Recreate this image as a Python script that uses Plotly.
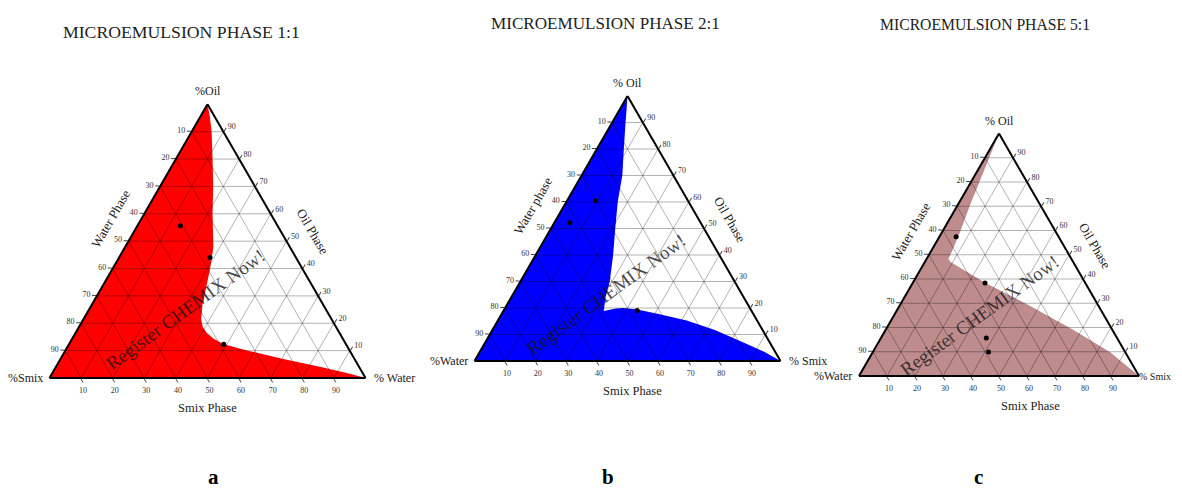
import math
import plotly.graph_objects as go

# ---------------- data (percent, a = Oil at top vertex, c = right vertex) ----------------
TICKS = [10, 20, 30, 40, 50, 60, 70, 80, 90]
TICK_TEXT = [str(100 - v) for v in TICKS]

# Panel a (1:1): boundary of the red region from %Oil vertex to %Water vertex
a_oil = [100, 95, 90, 80, 70, 60, 50, 47.7, 39.8, 32.6, 26.8, 21.6, 18.7, 16.4, 14.3, 12.3, 10, 7.07, 3.83, 1.5, 0]
a_right = [0, 3.3, 6.3, 11.6, 16.8, 21.6, 26.8, 28.0, 30.9, 33.2, 35.0, 37.2, 39.1, 41.6, 44.8, 49.0, 57.8, 70.1, 84.7, 94.6, 100]
a_dot_oil = [55.6, 44.0, 12.3]
a_dot_right = [13.6, 28.8, 49.0]

# Panel b (2:1): boundary of the blue region
b_oil = [100, 95, 89, 80, 70, 60, 50, 40, 30, 24, 18.9, 19.8, 20, 19.4, 17.7, 15.3, 11.7, 7.0, 3.4, 0]
b_right = [0, 2.2, 4.8, 8.8, 13.3, 16.8, 21.0, 25.3, 29.2, 30.8, 32.8, 36.3, 38.6, 43.5, 51.3, 61.7, 72.7, 84.4, 93.1, 100]
b_dot_oil = [52.2, 60.5, 19.1]
b_dot_right = [5.1, 9.3, 43.6]

# Panel c (5:1): boundary of the rosy region
c_oil = [100, 90, 80, 70, 60, 52, 48.3, 47.0, 38.4, 29.5, 19.3, 9.65, 0]
c_right = [0, 1.5, 3.0, 4.5, 6.3, 7.4, 7.8, 9.2, 26.0, 45.4, 66.5, 85.0, 100]
c_dot_oil = [57.4, 38.4, 15.7, 9.9]
c_dot_right = [6.0, 25.8, 37.6, 41.3]

titles = ["MICROEMULSION PHASE 1:1", "MICROEMULSION PHASE 2:1", "MICROEMULSION PHASE 5:1"]
vertex_top = ["%Oil", "% Oil", "% Oil"]
vertex_left = ["%Smix", "%Water", "%Water"]
vertex_right = ["% Water", "% Smix", "% Smix"]
left_titles = ["Water Phase", "Water phase", "Water Phase"]
right_titles = ["Oil Phase", "Oil Phase", "Oil Phase"]
bottom_titles = ["Smix Phase", "Smix Phase", "Smix Phase"]
letters = ["a", "b", "c"]
fills = ["#FF0000", "#0000FF", "rgb(190,140,140)"]

# ---------------- layout geometry (pixels of the page) ----------------
OFF = 8                      # page body margin
W, H = 1182 - OFF, 488 - OFF
SQ = math.sqrt(3) / 2
panels = [
    dict(cx=207.5, by=378, w=316, tx=181, ty=32, tsize=17.7, lx=213, bx=0, vr=12, vrx=None),
    dict(cx=627.5, by=361, w=306, tx=605, ty=23, tsize=17.1, lx=608, bx=5, vr=12, vrx=None),
    dict(cx=999, by=376, w=280, tx=985, ty=25, tsize=15.7, lx=978, bx=31, vr=10, vrx=1173),
]
SERIF = "Liberation Serif"
GRID = "rgba(0,0,0,0.38)"


def px(x):
    return (x - OFF) / W


def py(y):
    return 1 - (y - OFF) / H


fig = go.Figure()
datasets = [
    (a_oil, a_right, a_dot_oil, a_dot_right),
    (b_oil, b_right, b_dot_oil, b_dot_right),
    (c_oil, c_right, c_dot_oil, c_dot_right),
]

# grid lines at the tick values (drawn above the filled regions)
ga, gb, gc = [], [], []
for v in TICKS:
    ga += [v, v, None]; gb += [100 - v, 0, None]; gc += [0, 100 - v, None]      # a = const
    ga += [100 - v, 0, None]; gb += [v, v, None]; gc += [0, 100 - v, None]      # b = const
    ga += [100 - v, 0, None]; gb += [0, 100 - v, None]; gc += [v, v, None]      # c = const

annotations = []
for i, (oil, right, doil, dright) in enumerate(datasets):
    sub = "ternary" if i == 0 else f"ternary{i+1}"
    A = list(oil) + [0, oil[0]]
    C = list(right) + [0, right[0]]
    B = [100 - a - c for a, c in zip(A, C)]
    fig.add_trace(go.Scatterternary(
        a=A, b=B, c=C, mode="lines", fill="toself", fillcolor=fills[i],
        line=dict(width=0, color=fills[i]), subplot=sub, showlegend=False,
        hoverinfo="skip"))
    fig.add_trace(go.Scatterternary(
        a=ga, b=gb, c=gc, mode="lines", line=dict(color=GRID, width=0.8),
        subplot=sub, showlegend=False, hoverinfo="skip"))
    fig.add_trace(go.Scatterternary(
        a=doil, b=[100 - a - c for a, c in zip(doil, dright)], c=dright,
        mode="markers", marker=dict(color="black", size=5), subplot=sub,
        showlegend=False))

    p = panels[i]
    w = p["w"]
    h = w * SQ
    cx, by = p["cx"], p["by"]
    top = by - h
    Lx, Rx = cx - w / 2, cx + w / 2

    def ax():
        return dict(
            title=dict(text=""), tickmode="array", tickvals=TICKS, ticktext=TICK_TEXT,
            ticks="outside", ticklen=4, tickcolor="#444", tickwidth=1,
            tickfont=dict(family=SERIF, size=8, color="#333"),
            linecolor="black", linewidth=2, showline=True,
            showgrid=False, layer="above traces", min=0)

    fig.update_layout(**{sub: dict(
        sum=100, bgcolor="white",
        domain=dict(x=[px(Lx), px(Rx)], y=[py(by), py(top)]),
        aaxis=ax(), baxis=ax(), caxis=ax())})

    def ann(text, x, y, size, color="#222", **kw):
        d = dict(text=text, x=px(x), y=py(y), xref="paper", yref="paper",
                 showarrow=False, font=dict(family=SERIF, size=size, color=color))
        d.update(kw)
        annotations.append(d)

    # vertex labels
    ann(vertex_top[i], cx, top - 4, 12, yanchor="bottom", xanchor="center")
    ann(vertex_left[i], Lx - 5, by, 12, xanchor="right", yanchor="middle")
    if p["vrx"] is None:
        ann(vertex_right[i], Rx + 6, by, p["vr"], xanchor="left", yanchor="middle")
    else:
        ann(vertex_right[i], p["vrx"], by, p["vr"], xanchor="right", yanchor="middle")

    # edge titles
    mlx, mly = (Lx + cx) / 2, (by + top) / 2
    ann(left_titles[i], mlx - 0.866 * 27 + 0.5 * 11, mly - 0.5 * 27 - 0.866 * 11, 13,
        textangle=-60, xanchor="center", yanchor="middle")
    mrx, mry = (Rx + cx) / 2, (by + top) / 2
    ann(right_titles[i], mrx + 0.866 * 27 + 0.5 * 5, mry - 0.5 * 27 + 0.866 * 5, 13,
        textangle=60, xanchor="center", yanchor="middle")
    ann(bottom_titles[i], cx + p["bx"], by + 30, 12.5, xanchor="center", yanchor="middle")

    # watermark
    s = w / 300
    ann("Register CHEMIX Now!", cx - 21 * s, by - 65 * s, 19, textangle=-36,
        xanchor="center", yanchor="middle", color="rgba(20,20,20,0.78)")

    # panel title and letter
    ann(titles[i], p["tx"], p["ty"], p["tsize"], xanchor="center", yanchor="middle")
    ann("<b>" + letters[i] + "</b>", p["lx"], 477, 21, color="black",
        xanchor="center", yanchor="middle")

fig.update_layout(
    width=W, height=H, margin=dict(l=0, r=0, t=0, b=0),
    paper_bgcolor="white", plot_bgcolor="white",
    annotations=annotations, showlegend=False,
)

fig.write_html("out.html")
